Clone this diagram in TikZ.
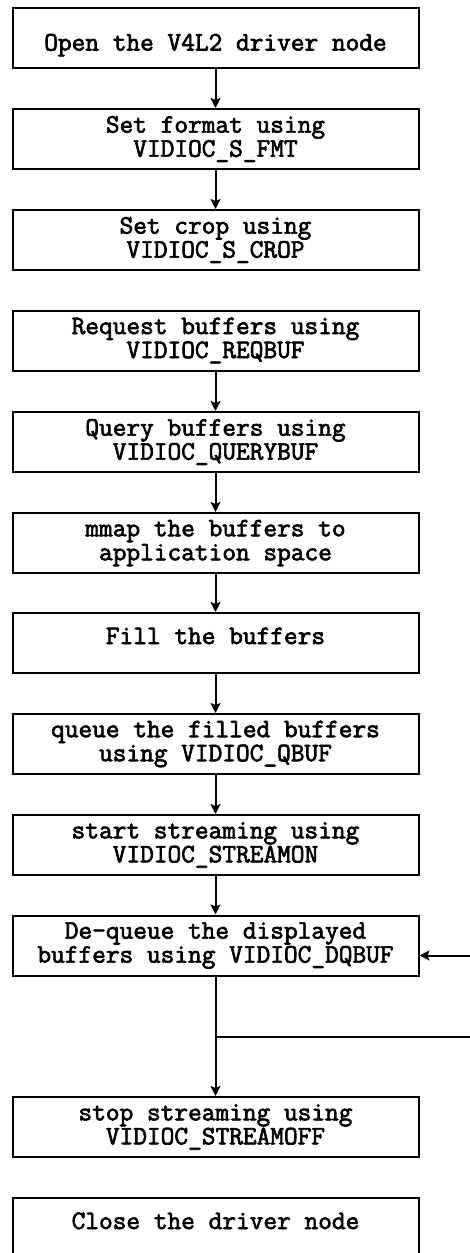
\documentclass[tikz,border=0pt]{standalone}
\usepackage{fontspec}
\setmonofont{Latin Modern Mono}[AutoFakeBold=2.5]
\usepackage{tikz}
\usetikzlibrary{arrows.meta}

\newcommand{\stepfont}{\ttfamily\bfseries\fontsize{13.3}{12}\selectfont\setlength{\lineskiplimit}{-100pt}}

\begin{document}
\begin{tikzpicture}[x=0.5pt,y=-0.5pt,
                stepbox/.style={draw, line width=1pt, minimum width=203pt, minimum height=30pt,
                    inner sep=0pt, align=center, font=\stepfont},
                lowtext/.style={text height=12.5pt, text depth=0pt},
                hightext/.style={text height=8pt, text depth=7pt},
                flow/.style={line width=1pt, -{Stealth[length=5pt,width=5pt,inset=1pt]}}]
                \useasboundingbox (0,0) rectangle (470,1253);
                \node [stepbox, lowtext] (open) at (215.5,38) {Open the V4L2 driver node};
                \node [stepbox] (fmt) at (215.5,139) {Set format using\\VIDIOC\_S\_FMT};
                \node [stepbox] (crop) at (215.5,240) {Set crop using\\VIDIOC\_S\_CROP};
                \node [stepbox] (reqbuf) at (215.5,340.5) {Request buffers using\\VIDIOC\_REQBUF};
                \node [stepbox] (querybuf) at (215.5,442) {Query buffers using\\VIDIOC\_QUERYBUF};
                \node [stepbox] (mmap) at (215.5,543) {mmap the buffers to\\application space};
                \node [stepbox, hightext] (fill) at (215.5,643) {Fill the buffers};
                \node [stepbox] (qbuf) at (215.5,744) {queue the filled buffers\\ using VIDIOC\_QBUF};
                \node [stepbox] (streamon) at (215.5,845) {start streaming using\\VIDIOC\_STREAMON};
                \node [stepbox] (dqbuf) at (215.5,945.5) {De-queue the displayed\\buffers using VIDIOC\_DQBUF};
                \node [stepbox] (streamoff) at (215.5,1127) {stop streaming using\\ VIDIOC\_STREAMOFF};
                \node [stepbox, hightext] (close) at (215.5,1228) {Close the driver node};
                \draw [flow] (open) -- (fmt);
                \draw [flow] (fmt) -- (crop);
                \draw [flow] (reqbuf) -- (querybuf);
                \draw [flow] (querybuf) -- (mmap);
                \draw [flow] (mmap) -- (fill);
                \draw [flow] (fill) -- (qbuf);
                \draw [flow] (qbuf) -- (streamon);
                \draw [flow] (streamon) -- (dqbuf);
                \draw [flow] (dqbuf) -- (streamoff);
                % loop ends at the right edge
                \coordinate (branch) at (215.5,1037);
                \coordinate (branchend) at (470,1037);
                \coordinate (backin) at (470,955.5);
                \draw [line width=1pt] (branch) -- (branchend);
                \draw [flow] (backin) -- (dqbuf.east |- backin);
            \end{tikzpicture}
\end{document}
